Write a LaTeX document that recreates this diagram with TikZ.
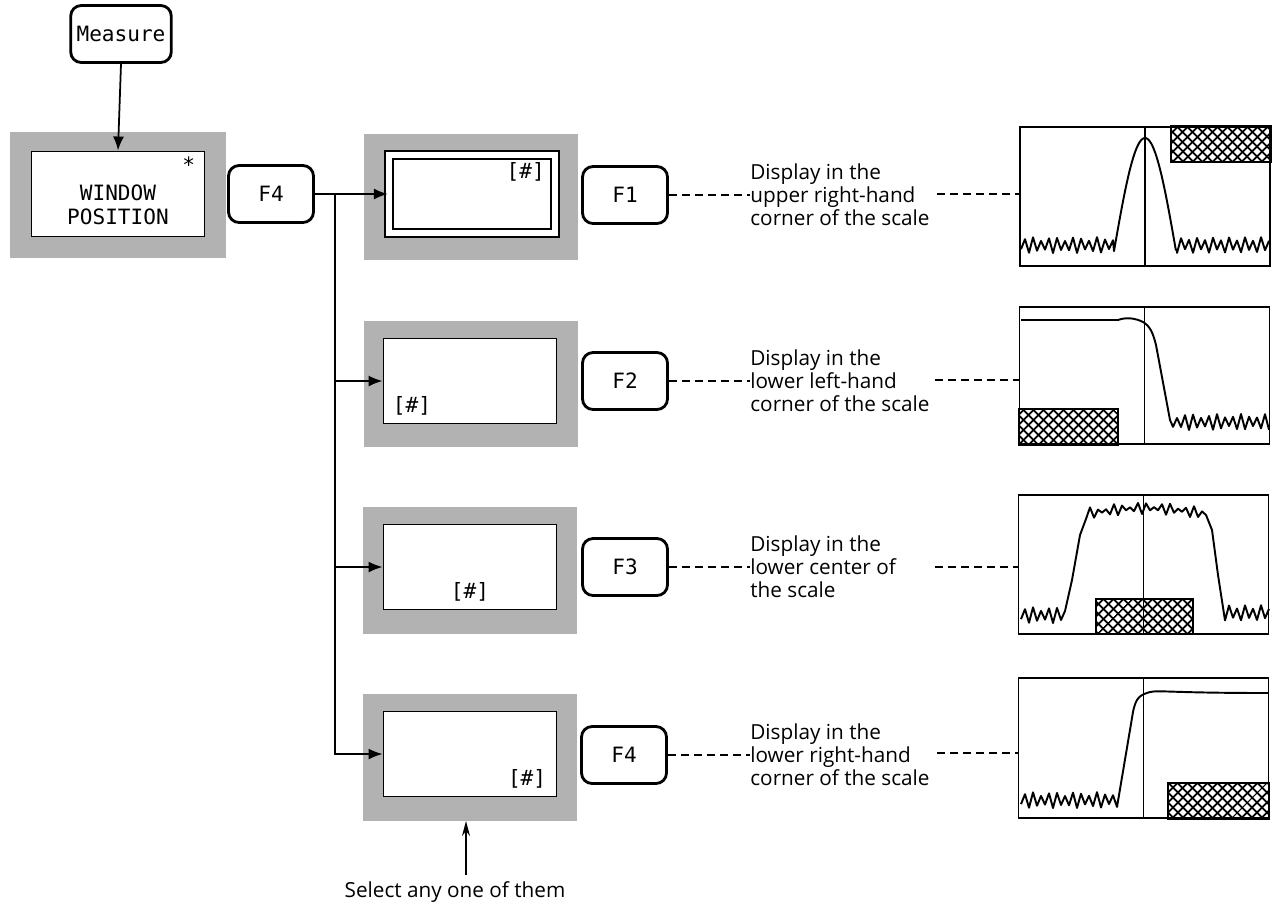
\documentclass[tikz,border=0pt]{standalone}
\usepackage{fontspec}
\setmainfont{Open Sans}
\setmonofont{DejaVu Sans Mono}
\usepackage{tikz}
\usetikzlibrary{arrows.meta,positioning,patterns.meta}

\begin{document}
\begin{tikzpicture}[x=0.02cm, y=-0.02cm,
	key/.style = {draw, line width=1.6pt, rounded corners=6pt, minimum width=1.7cm, minimum height=1.14cm, font=\ttfamily\fontsize{12}{14}\selectfont},
	dotted area/.style = {fill=black!30, minimum width=4.28cm, minimum height=2.54cm},
	screen/.style = {draw, fill=white, line width=1.1pt, minimum width=3.46cm, minimum height=1.7cm},
	mono/.style = {font=\ttfamily\fontsize{12}{14}\selectfont, inner sep=0pt},
	note/.style = {align=left, anchor=west, inner sep=0pt, font=\fontsize{11.8}{13.1}\selectfont},
	scale box/.style = {draw, line width=1pt, minimum width=5cm, minimum height=2.78cm},
	wave/.style = {line width=1.1pt, line join=round},
	hatch/.style = {draw, line width=1pt, pattern={Lines[angle=45,distance=4pt,line width=1.1pt]}, postaction={pattern={Lines[angle=-45,distance=4pt,line width=1.1pt]}}},
	link/.style = {line width=1pt, -{Latex[length=0.28cm,width=0.22cm]}},
	guide/.style = {line width=0.9pt, dash pattern=on 0.16cm off 0.1cm}]
	\useasboundingbox (0,0) rectangle (1274,907);

	% menu key and window position screen
	\node [key] (measure) at (121,34) {Measure};
	\node [dotted area, minimum width=4.34cm, minimum height=2.52cm] (sh0) at (118,195) {};
	\node [screen] (win) at (118,194) {};
	\node [mono, align=center, font=\ttfamily\fontsize{12}{13.6}\selectfont] (wintext) at (118,205) {WINDOW\\POSITION};
	\node [mono, below left=0.12cm and 0.2cm of win.north east] (star) {*};
	\draw [link] (measure.south) -- (win.north);
	\node [key] (k0) at (271,194) {F4};
	\coordinate (br) at (335,194);

	% the four screens
	\node [dotted area] (sh1) at (471,197) {};
	\node [screen, double, double distance=0.12cm, line width=1pt, minimum width=3.33cm, minimum height=1.56cm] (scr1) at (472,194) {};
	\node [mono, below left=0.16cm and 0.22cm of scr1.north east] (h1) {[\#]};
	\node [dotted area] (sh2) at (471,384) {};
	\node [screen] (scr2) at (470,381) {};
	\node [mono, above right=0.18cm and 0.2cm of scr2.south west] (h2) {[\#]};
	\node [dotted area] (sh3) at (470,570) {};
	\node [screen] (scr3) at (470,567) {};
	\node [mono, above=0.18cm of scr3.south] (h3) {[\#]};
	\node [dotted area] (sh4) at (470,757) {};
	\node [screen] (scr4) at (470,754) {};
	\node [mono, above left=0.18cm and 0.22cm of scr4.south east] (h4) {[\#]};

	\draw [link] (k0.east) -- (scr1.west);
	\draw [link] (br) |- (scr2.west);
	\draw [link] (br) |- (scr3.west);
	\draw [link] (br) |- (scr4.west);

	% soft keys and notes
	\node [key] (f1) at (625,195) {F1};
	\node [key] (f2) at (625,381) {F2};
	\node [key] (f3) at (625,567) {F3};
	\node [key] (f4) at (624,755) {F4};
	\node [note] (n1) at (750,195) {Display in the\\upper right-hand\\corner of the scale};
	\node [note] (n2) at (750,381) {Display in the\\lower left-hand\\corner of the scale};
	\node [note] (n3) at (750,567) {Display in the\\lower center of\\the scale};
	\node [note] (n4) at (750,755) {Display in the\\lower right-hand\\corner of the scale};
	\draw [guide] (f1.east) -- (n1.west);
	\draw [guide] (f2.east) -- (n2.west);
	\draw [guide] (f3.east) -- (n3.west);
	\draw [guide] (f4.east) -- (n4.west);

	% scale pictures
	\node [scale box] (sc1) at (1145,196.5) {};
	\node [scale box, minimum height=2.74cm] (sc2) at (1144.5,375.5) {};
	\node [scale box] (sc3) at (1143.5,564.5) {};
	\node [scale box, minimum height=2.8cm] (sc4) at (1143.5,748) {};
	\coordinate (d1) at (937,194);
	\coordinate (d2) at (935,380);
	\coordinate (d3) at (935,567);
	\coordinate (d4) at (937,753);
	\draw [guide] (d1) -- (d1 -| sc1.west);
	\draw [guide] (d2) -- (d2 -| sc2.west);
	\draw [guide] (d3) -- (d3 -| sc3.west);
	\draw [guide] (d4) -- (d4 -| sc4.west);

	\draw [hatch] (sc1.north east) rectangle (1171,162);
	\draw [hatch] (sc2.south west) rectangle (1118,409);
	\draw [hatch] (1096,634) rectangle (1193,599);
	\draw [hatch] (sc4.south east) rectangle (1168,783);
	\draw [wave] (sc1.north) -- (sc1.south);
	\draw [wave] (sc2.north) -- (sc2.south);
	\draw [wave] (sc3.north) -- (sc3.south);
	\draw [wave] (sc4.north) -- (sc4.south);

	\draw [wave] plot [domain=1021:1113, samples=24] (\x, {245 + 6*cos((\x-1021)*45) + 2*sin((\x-1000)*29)})
		-- plot [domain=1114:1177, samples=50] (\x, {251 - 113*cos(min(90, abs(\x-1145)*90/31))})
		-- plot [domain=1177:1269, samples=24] (\x, {245 + 6*cos((\x-1177)*45) + 2*sin((\x-1000)*23)});
	\draw [wave] (1021,320) -- (1118,320) .. controls (1126,317) and (1135,318) .. (1143,322)
		.. controls (1150,326) and (1153,333) .. (1156,345) -- (1170,420)
		-- plot [domain=1173:1269, samples=25] (\x, {422 + 6*cos((\x-1173)*45) + 2*sin((\x-1000)*31)});
	\draw [wave] plot [domain=1021:1065, samples=12] (\x, {615 + 6*cos((\x-1021)*45) + 2*sin((\x-1000)*29)})
		-- (1072,580) -- (1080,535)
		-- plot [domain=1086:1206, samples=31] (\x, {514 - 6*sin((\x-1086)*1.5) + 3.5*cos((\x-1086)*45) + 2.5*sin((\x-1000)*31)})
		-- (1212,530) -- (1218,575)
		-- plot [domain=1225:1269, samples=12] (\x, {613 + 6*cos((\x-1225)*45) + 2*sin((\x-1000)*23)});
	\draw [wave] plot [domain=1021:1117, samples=25] (\x, {800 + 6*cos((\x-1021)*45) + 2*sin((\x-1000)*29)})
		-- (1133,712) .. controls (1136,697) and (1140,695) .. (1150,692)
		.. controls (1160,690) and (1170,693) .. (1268,693);

	% bottom remark
	\node [font=\fontsize{11.8}{13}\selectfont] (sel) at (455,892) {Select any one of them};
	\coordinate (pick) at (466,821);
	\draw [line width=1pt, -{Stealth[length=0.3cm,width=0.16cm]}] (sel.north -| pick) -- (pick);
\end{tikzpicture}
\end{document}
